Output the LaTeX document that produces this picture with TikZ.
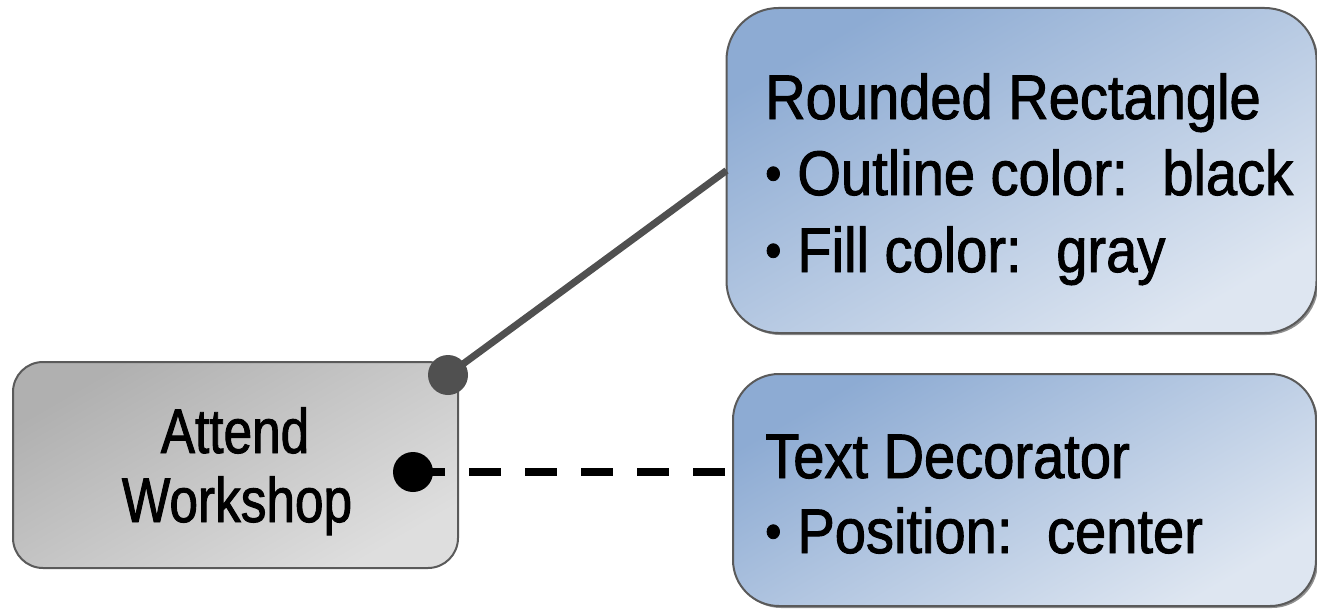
\documentclass[tikz,border=0pt]{standalone}
\usepackage{fontspec}
\setmainfont{Liberation Sans}
\newfontfamily\notefont[FakeStretch=0.89,FakeBold=1.5]{Liberation Sans}
\newfontfamily\taskfont[FakeStretch=0.815,FakeBold=1.5]{Liberation Sans}
\usetikzlibrary{shadows}

\definecolor{bluedark}{RGB}{141,171,211}
\definecolor{bluelight}{RGB}{222,230,241}
\definecolor{greydark}{RGB}{176,176,176}
\definecolor{greylight}{RGB}{222,222,222}
\definecolor{edge}{RGB}{90,90,90}
\definecolor{linkgrey}{RGB}{80,80,80}

% list bullet followed by its gap
\newcommand\itemdot{{\fontsize{52}{52}\selectfont\raisebox{4pt}{\textbullet}}\hspace{16pt}}

\tikzset{
  taskbox/.style={draw=edge, line width=2pt, rounded corners=30pt,
    top color=greydark, bottom color=greylight, shading angle=30,
    inner sep=0pt, outer sep=0pt},
  notebox/.style={draw=edge, line width=2pt, rounded corners=52pt,
    top color=bluedark, bottom color=bluelight, shading angle=30,
    inner sep=0pt, outer sep=0pt,
    drop shadow={shadow xshift=2pt, shadow yshift=-2pt, fill=black!55, opacity=0.8}},
  notetext/.style={inner sep=0pt, anchor=base west,
    font=\notefont\fontsize{63}{70}\selectfont},
  tasktext/.style={inner sep=0pt, anchor=base,
    font=\taskfont\fontsize{63}{70}\selectfont},
  solidlink/.style={draw=linkgrey, line width=7pt},
  dashlink/.style={draw=black, line width=7.5pt, dash pattern=on 32pt off 24pt},
  knob/.style={circle, inner sep=0pt, outer sep=0pt, minimum size=40pt}
}

\begin{document}
\begin{tikzpicture}[x=1pt, y=-1pt]
\useasboundingbox (0,0) rectangle (1317,610);

% boxes
\node[taskbox, minimum width=445pt, minimum height=206pt] (attend) at (235.5,465) {};
\node[notebox, minimum width=590pt, minimum height=325pt] (shape) at (1021.5,170.5) {};
\node[notebox, rounded corners=46pt, minimum width=583pt, minimum height=232pt] (deco) at (1024.5,490) {};

% texts
\node[tasktext] (t1) at (235,453) {Attend};
\node[tasktext] (t2) at (237,522) {Workshop};

\node[notetext] (s1) at (765,119) {Rounded Rectangle};
\node[notetext] (s2) at (765,195) {\itemdot Outline color:\hspace{0.55em}black};
\node[notetext] (s3) at (765,272) {\itemdot Fill color:\hspace{0.55em}gray};

\node[notetext] (d1) at (765,478) {Text Decorator};
\node[notetext] (d2) at (765,553) {\itemdot Position:\hspace{0.55em}center};

% connector anchors
\coordinate (k1) at (448,375);
\coordinate (k2) at (413,472);

% connectors
\draw[solidlink] (k1) -- (shape.west);
\draw[dashlink] (k2) -- (k2 -| deco.west);

\node[knob, fill=linkgrey] (end1) at (k1) {};
\node[knob, fill=black] (end2) at (k2) {};
\end{tikzpicture}
\end{document}
